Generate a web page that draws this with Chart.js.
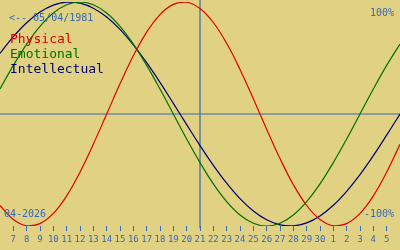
<!DOCTYPE html>
<html>
<head>
<meta charset="utf-8">
<script src="https://cdn.jsdelivr.net/npm/chart.js@4/dist/chart.umd.min.js"></script>
<style>
html,body{margin:0;padding:0;background:#e0d282;}
#c{display:block;}
</style>
</head>
<body>
<canvas id="c" width="400" height="250"></canvas>
<script>
// Day positions of the samples (April 2026; 31+ = May)
const seriesDays = [6,7,8,9,10,11,12,13,14,15,16,17,18,19,20,21,22,23,24,25,26,27,28,29,30,31,32,33,34,35,36];
const physical = [-0.817,-0.942,-0.998,-0.979,-0.888,-0.731,-0.520,-0.270,0,0.270,0.520,0.731,0.888,0.979,0.998,0.942,0.817,0.631,0.398,0.136,-0.136,-0.398,-0.631,-0.817,-0.942,-0.998,-0.979,-0.888,-0.731,-0.520,-0.270];
const emotional = [0.223,0.434,0.624,0.782,0.901,0.975,1,0.975,0.901,0.782,0.624,0.434,0.223,0,-0.223,-0.434,-0.624,-0.782,-0.901,-0.975,-1,-0.975,-0.901,-0.782,-0.624,-0.434,-0.223,0,0.223,0.434,0.624];
const intellectual = [0.541,0.690,0.815,0.910,0.972,0.999,0.990,0.945,0.866,0.756,0.618,0.458,0.282,0.095,-0.095,-0.282,-0.458,-0.618,-0.756,-0.866,-0.945,-0.990,-0.999,-0.972,-0.910,-0.815,-0.690,-0.541,-0.372,-0.189,0];
const tickDays = [7,8,9,10,11,12,13,14,15,16,17,18,19,20,21,22,23,24,25,26,27,28,29,30,31,32,33,34,35];
const tickLabels = ['7','8','9','10','11','12','13','14','15','16','17','18','19','20','21','22','23','24','25','26','27','28','29','30','1','2','3','4','5'];
const dayRange = [6,36];
const todayDay = 21;
const seriesNames = ['Physical','Emotional','Intellectual'];
const birthLabel = '<-- 05/04/1981';
const monthLabel = '04-2026';
const topLabel = '100%';
const bottomLabel = '-100%';

const RED='#e00000', GREEN='#007000', NAVY='#000070', BLUE='#3668b8', BG='#e0d282';
const MONO='"DejaVu Sans Mono", "Liberation Mono", monospace';

const pts = arr => seriesDays.map((d,i)=>({x:d,y:arr[i]}));

const bgPlugin = {
  id:'bg',
  beforeDraw(chart){
    const ctx=chart.ctx; ctx.save(); ctx.fillStyle=BG; ctx.fillRect(0,0,chart.width,chart.height); ctx.restore();
  }
};
const textPlugin = {
  id:'texts',
  afterDatasetsDraw(chart){
    const ctx=chart.ctx; ctx.save();
    ctx.textBaseline='alphabetic';
    ctx.font='10px '+MONO;
    ctx.fillStyle=BLUE; ctx.textAlign='left';
    ctx.fillText(birthLabel, 9, 21);
    ctx.fillText(monthLabel, 4, 217);
    ctx.textAlign='right';
    ctx.fillText(topLabel, 394, 16);
    ctx.fillText(bottomLabel, 394, 217);
    ctx.textAlign='left';
    ctx.font='13px '+MONO;
    const cols=[RED,GREEN,NAVY];
    seriesNames.forEach((n,i)=>{ctx.fillStyle=cols[i]; ctx.fillText(n, 10, 43+i*15);});
    ctx.restore();
  }
};

new Chart(document.getElementById('c'), {
  type:'line',
  data:{
    datasets:[
      {label:'zero', data:[{x:dayRange[0],y:0},{x:dayRange[1],y:0}], borderColor:BLUE, borderWidth:1.2, order:5},
      {label:'today', data:[{x:todayDay,y:-1.02},{x:todayDay,y:1.02}], borderColor:BLUE, borderWidth:1.2, clip:false, order:5},
      {label:seriesNames[0], data:pts(physical), borderColor:RED, borderWidth:1.2, order:1},
      {label:seriesNames[1], data:pts(emotional), borderColor:GREEN, borderWidth:1.2, order:2},
      {label:seriesNames[2], data:pts(intellectual), borderColor:NAVY, borderWidth:1.2, order:3}
    ]
  },
  options:{
    responsive:false, animation:false, devicePixelRatio:1,
    layout:{padding:{top:2,left:0,right:0,bottom:0}},
    elements:{point:{radius:0}, line:{tension:0.4, fill:false}},
    plugins:{legend:{display:false}, tooltip:{enabled:false}},
    scales:{
      x:{type:'linear', min:dayRange[0], max:dayRange[1],
         afterBuildTicks(s){ s.ticks = tickDays.map(v=>({value:v})); },
         afterFit(s){ s.height = 24; },
         ticks:{autoSkip:false, maxRotation:0, padding:3, color:BLUE,
                font:{family:MONO, size:9},
                callback:(v,i)=>tickLabels[i]},
         grid:{drawOnChartArea:false, drawTicks:true, tickLength:5, color:BLUE, lineWidth:1},
         border:{display:false}
      },
      y:{display:false, min:-1, max:1}
    }
  },
  plugins:[bgPlugin,textPlugin]
});
</script>
</body>
</html>
